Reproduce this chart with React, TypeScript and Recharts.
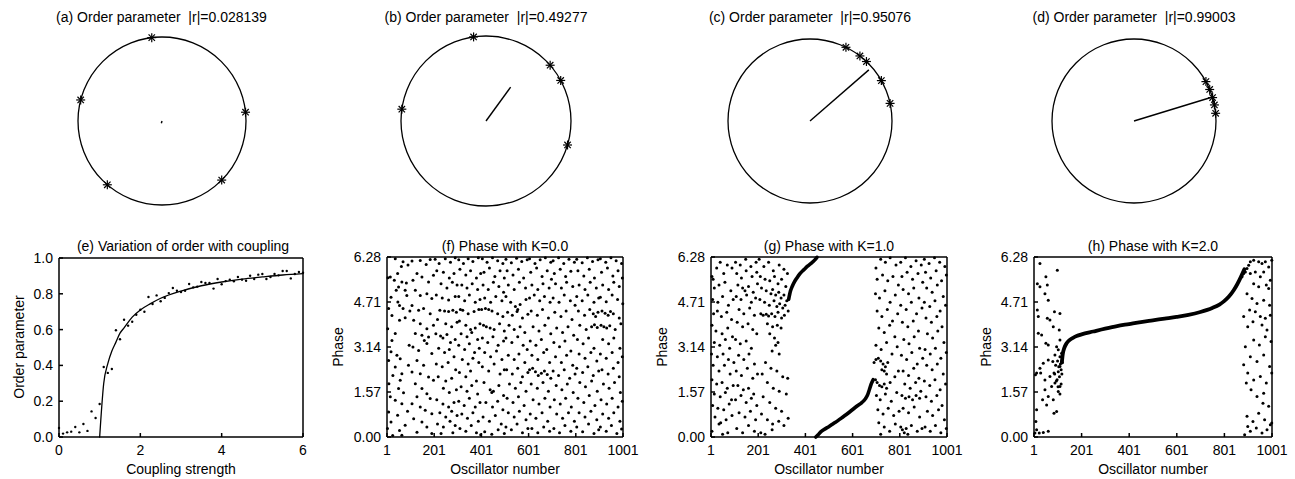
import { ComposedChart, ScatterChart, Scatter, Line, XAxis, YAxis, ReferenceDot } from 'recharts'

const FONT = '"Liberation Sans", Arial, Helvetica, sans-serif'

type Pair = [number, number]

// (a)-(d) phases of the five oscillators, in degrees
const phasesA = [97, 165.5, 6, 229.4, 315.3]
const phasesB = [98.4, 41, 28.5, 172, 343.6]
const phasesC = [64, 52.5, 46.5, 29.5, 12.4]
const phasesD = [28.7, 22.6, 16.6, 11.3, 5.4]
// order parameter |r| and its angle (degrees)
const orderMag = [0.028139, 0.49277, 0.95076, 0.99003]
const orderAngle = [254, 54, 41, 17]
const topTitles = [
  '(a) Order parameter  |r|=0.028139',
  '(b) Order parameter  |r|=0.49277',
  '(c) Order parameter  |r|=0.95076',
  '(d) Order parameter  |r|=0.99003',
]

// (e) simulated order vs coupling, and the theory curve
const couplingK = [0, 0.1, 0.2, 0.3, 0.4, 0.5, 0.6, 0.7, 0.8, 0.9, 1.0, 1.1, 1.2, 1.3, 1.4, 1.5, 1.6, 1.7, 1.8, 1.9, 2.0,
  2.1, 2.2, 2.3, 2.4, 2.5, 2.6, 2.7, 2.8, 2.9, 3.0, 3.1, 3.2, 3.3, 3.4, 3.5, 3.6, 3.7, 3.8, 3.9, 4.0,
  4.1, 4.2, 4.3, 4.4, 4.5, 4.6, 4.7, 4.8, 4.9, 5.0, 5.1, 5.2, 5.3, 5.4, 5.5, 5.6, 5.7, 5.8, 5.9, 6.0]
const orderSim = [0.05, 0.019, 0.026, 0.03, 0.056, 0.026, 0.073, 0.034, 0.143, 0.106, 0.184, 0.391, 0.358, 0.38, 0.596,
  0.546, 0.655, 0.622, 0.644, 0.683, 0.711, 0.7, 0.782, 0.743, 0.791, 0.758, 0.777, 0.804, 0.832, 0.817, 0.81,
  0.817, 0.855, 0.836, 0.84, 0.866, 0.86, 0.86, 0.829, 0.883, 0.853, 0.871, 0.879, 0.87, 0.894, 0.879, 0.873,
  0.901, 0.883, 0.907, 0.911, 0.883, 0.894, 0.911, 0.903, 0.927, 0.927, 0.886, 0.911, 0.922, 0.918]
const theoryK = [1.0, 1.1, 1.2, 1.3, 1.4, 1.5, 1.6, 1.8, 2.0, 2.25, 2.5, 3, 3.5, 4, 4.5, 5, 5.5, 6]
const theoryR = [0, 0.3, 0.41, 0.48, 0.53, 0.58, 0.61, 0.67, 0.71, 0.745, 0.775, 0.815, 0.845, 0.866, 0.882, 0.894, 0.905, 0.913]

// (f) K=0.0 : [oscillator, phase]
const phaseK0: Pair[] = [
  [36,6.22],[69,6.11],[62,5.95],[46,5.7],[15,5.58],[32,5.47],[5,5.56],[64,5.41],[83,5.37],[50,5.23],[40,5.12],[78,5.12],[85,4.94],[18,4.88],[47,4.71],[54,4.59],[8,4.48],[69,4.48],[22,4.24],[54,4.07],[78,4.16],[4,3.78],[36,3.61],[22,3.37],[18,2.97],[43,2.85],[57,2.73],[8,2.67],[36,2.44],[64,2.21],[26,2.15],[57,1.98],[9,1.86],[50,1.69],[71,1.54],[15,1.4],[36,1.28],[64,1.16],[8,0.87],[46,0.76],[18,0.52],[78,0.41],[54,0.23],[64,0.06],[90,6.0],[95,3.2],[92,2.5],[88,0.9],[3,0.3],[25,0.05],[98,4.4],
  [107,6.14],[142,6.16],[167,6.02],[184,6.19],[128,5.7],[149,5.58],[111,5.47],[177,5.41],[198,5.64],[121,5.12],[142,4.94],[170,5.0],[191,4.83],[107,4.59],[135,4.42],[156,4.48],[184,4.3],[114,4.07],[142,3.95],[170,3.78],[198,3.9],[121,3.61],[149,3.55],[177,3.49],[159,3.37],[170,3.26],[111,3.14],[135,3.02],[191,2.91],[128,2.67],[156,2.5],[107,2.27],[142,2.21],[177,2.09],[198,1.98],[121,1.86],[149,1.69],[170,1.51],[128,1.4],[184,1.34],[107,1.16],[142,1.05],[163,0.93],[191,0.81],[114,0.64],[149,0.52],[170,0.35],[128,0.17],[191,0.12],
  [205,6.2],[222,6.05],[248,6.22],[270,6.1],[290,6.25],[212,5.8],[240,5.75],[265,5.55],[285,5.7],[230,5.35],[255,5.2],[278,5.4],[298,5.3],[210,4.95],[235,4.85],[262,4.78],[290,4.9],[225,4.42],[245,4.4],[262,4.38],[280,4.42],[295,4.35],[215,4.1],[250,3.95],[275,3.85],[298,4.0],[208,3.6],[228,3.52],[238,3.45],[255,3.58],[270,3.3],[290,3.4],[220,3.1],[245,2.95],[265,3.05],[285,2.8],[210,2.55],[235,2.45],[260,2.6],[292,2.35],[218,2.1],[250,1.95],[275,2.05],[240,1.7],[265,1.55],[295,1.65],[212,1.3],[238,1.15],[262,1.05],[285,1.2],[225,0.85],[250,0.7],[275,0.9],[298,0.75],[215,0.45],[240,0.35],[268,0.55],[290,0.4],[230,0.12],[280,0.15],
  [305,6.18],[325,6.05],[345,6.22],[365,6.12],[388,6.25],[310,5.85],[335,5.65],[355,5.8],[380,5.55],[398,5.7],[318,5.3],[340,5.2],[362,5.35],[385,5.15],[305,4.9],[330,4.75],[350,4.95],[375,4.7],[395,4.8],[312,4.45],[322,4.42],[345,4.3],[370,4.38],[390,4.45],[308,4.05],[335,3.9],[355,3.75],[375,3.8],[395,3.95],[315,3.6],[340,3.5],[360,3.65],[385,3.4],[305,3.2],[330,3.05],[350,3.25],[372,2.95],[392,3.1],[320,2.7],[345,2.55],[365,2.75],[390,2.6],[308,2.25],[335,2.1],[355,2.3],[380,1.95],[315,1.75],[340,1.6],[360,1.8],[385,1.5],[305,1.25],[328,1.1],[350,1.35],[375,1.05],[395,1.2],[318,0.8],[342,0.65],[365,0.85],[388,0.55],[310,0.3],[335,0.2],[358,0.4],[380,0.15],[398,0.08],
  [405,6.22],[425,6.1],[448,6.25],[470,6.15],[492,6.05],[412,5.75],[435,5.9],[458,5.6],[480,5.8],[498,5.55],[408,5.3],[430,5.15],[452,5.4],[475,5.25],[495,5.05],[415,4.85],[440,4.7],[462,4.9],[488,4.75],[402,4.45],[418,4.48],[432,4.45],[446,4.4],[470,4.3],[492,4.2],[410,3.9],[422,3.85],[438,3.8],[455,3.75],[478,3.95],[498,3.7],[405,3.45],[428,3.3],[450,3.5],[472,3.2],[495,3.35],[415,2.95],[440,2.8],[465,3.0],[488,2.7],[405,2.45],[432,2.3],[455,2.55],[480,2.2],[498,2.35],[412,1.9],[438,1.65],[445,1.55],[452,1.6],[475,1.8],[495,1.45],[420,1.2],[448,1.05],[470,1.25],[492,0.95],[408,0.7],[435,0.55],[460,0.75],[485,0.45],[415,0.18],[445,0.1],[472,0.25],[498,0.12],
  [505,6.2],[528,6.08],[550,6.24],[572,6.12],[595,6.18],[510,5.8],[535,5.65],[558,5.85],[580,5.55],[515,5.3],[540,5.15],[562,5.4],[588,5.2],[505,4.9],[525,4.7],[545,4.55],[555,4.45],[565,4.62],[590,4.8],[512,4.35],[532,4.25],[552,4.38],[575,4.15],[598,4.28],[518,3.9],[540,3.75],[565,3.85],[585,3.65],[505,3.45],[530,3.3],[555,3.5],[578,3.2],[595,3.05],[515,2.85],[540,2.7],[560,2.9],[585,2.6],[508,2.35],[532,2.2],[555,2.4],[575,2.1],[598,2.25],[520,1.85],[545,1.7],[568,1.9],[590,1.6],[510,1.35],[535,1.2],[558,1.4],[582,1.1],[515,0.85],[540,0.7],[562,0.9],[590,0.6],[505,0.35],[528,0.25],[552,0.45],[575,0.15],[598,0.3],
  [605,6.22],[628,6.05],[650,6.18],[672,6.25],[695,6.1],[610,5.75],[635,5.9],[658,5.6],[680,5.8],[698,5.5],[615,5.3],[640,5.15],[662,5.35],[688,5.2],[605,4.85],[625,4.95],[648,4.75],[668,4.9],[692,4.7],[612,4.4],[638,4.25],[660,4.45],[685,4.15],[620,3.85],[645,3.7],[670,3.9],[695,3.6],[608,3.35],[632,3.2],[655,3.4],[678,3.05],[615,2.85],[640,2.7],[665,2.95],[690,2.6],[605,2.35],[618,2.4],[630,2.28],[642,2.15],[655,2.22],[668,2.3],[680,2.18],[695,2.05],[612,1.85],[638,1.7],[662,1.9],[685,1.6],[620,1.3],[645,1.15],[670,1.35],[692,1.05],[608,0.8],[632,0.65],[658,0.85],[682,0.55],[615,0.3],[640,0.15],[665,0.35],[690,0.2],
  [705,6.15],[728,6.25],[750,6.05],[772,6.2],[795,6.1],[710,5.7],[735,5.85],[758,5.6],[780,5.78],[715,5.35],[740,5.2],[762,5.4],[788,5.25],[705,4.85],[730,4.7],[752,4.95],[778,4.75],[798,4.6],[712,4.35],[738,4.2],[760,4.4],[785,4.1],[720,3.8],[745,3.65],[768,3.85],[792,3.55],[708,3.3],[732,3.15],[755,3.35],[780,3.0],[715,2.8],[740,2.6],[762,2.85],[788,2.5],[705,2.3],[728,2.15],[752,2.35],[775,2.05],[798,2.2],[718,1.8],[742,1.65],[765,1.85],[790,1.55],[710,1.3],[735,1.15],[758,1.35],[782,1.05],[720,0.8],[745,0.65],[770,0.85],[795,0.55],[708,0.3],[732,0.15],[755,0.4],[780,0.2],
  [805,6.2],[828,6.08],[850,6.25],[872,6.12],[895,6.18],[810,5.8],[835,5.62],[858,5.85],[880,5.55],[815,5.3],[840,5.15],[862,5.4],[888,5.2],[805,4.9],[828,4.75],[852,4.95],[878,4.7],[898,4.85],[812,4.4],[838,4.25],[860,4.45],[875,4.3],[885,4.2],[895,4.35],[818,3.9],[845,3.75],[868,3.85],[880,3.92],[892,3.82],[808,3.4],[832,3.25],[855,3.45],[878,3.1],[815,2.9],[840,2.75],[865,2.95],[890,2.65],[805,2.4],[830,2.25],[852,2.45],[875,2.15],[898,2.3],[818,1.9],[842,1.75],[868,1.95],[892,1.6],[810,1.35],[835,1.2],[858,1.45],[882,1.1],[815,0.85],[840,0.7],[865,0.9],[890,0.6],[805,0.35],[830,0.18],[855,0.45],[878,0.12],[898,0.25],
  [905,6.22],[928,6.1],[950,6.25],[972,6.15],[995,6.05],[910,5.75],[935,5.9],[958,5.62],[980,5.8],[998,5.55],[915,5.3],[940,5.15],[962,5.4],[985,5.25],[905,4.88],[930,4.72],[955,4.95],[978,4.8],[1000,4.65],[912,4.4],[925,4.32],[938,4.25],[948,4.38],[960,4.3],[985,4.15],[908,3.9],[920,3.85],[932,3.8],[945,3.88],[968,3.75],[992,3.95],[915,3.4],[940,3.25],[962,3.45],[988,3.1],[905,2.9],[930,2.75],[955,2.95],[980,2.6],[998,2.8],[912,2.35],[938,2.2],[960,2.4],[985,2.1],[918,1.85],[942,1.7],[965,1.9],[990,1.55],[908,1.3],[932,1.15],[955,1.35],[980,1.05],[998,1.25],[915,0.8],[940,0.65],[962,0.85],[988,0.55],[905,0.35],[930,0.2],[952,0.4],[975,0.12],[995,0.28],
]

// (g) K=1.0 : drifting oscillators
const phaseK1: Pair[] = [
  [5,5.6],[10,5.5],[25,5.9],[40,6.1],[55,5.7],[70,6.0],[90,5.9],[15,5.2],[35,5.3],[60,5.4],[85,5.1],[8,4.8],[30,4.7],[50,4.9],[75,4.6],[95,4.8],[12,4.3],[28,4.4],[45,4.2],[68,4.35],[88,4.1],[5,3.9],[22,3.7],[48,3.6],[72,3.8],[92,3.5],[15,3.3],[38,3.2],[62,3.4],[80,3.1],[3,2.9],[28,2.8],[52,2.9],[75,2.7],[98,2.6],[10,2.5],[35,2.3],[58,2.5],[82,2.2],[5,2.0],[25,1.85],[48,1.9],[70,1.7],[95,1.8],[15,1.5],[40,1.4],[62,1.55],[88,1.3],[8,1.1],[30,1.0],[55,0.95],[78,1.15],[18,0.7],[42,0.5],[35,0.45],[65,0.6],[90,0.75],[5,0.2],[50,0.1],[72,0.15],
  [105,6.1],[125,6.0],[148,6.2],[170,5.95],[192,6.1],[110,5.7],[130,5.55],[150,5.8],[175,5.6],[195,5.75],[115,5.3],[135,5.2],[145,5.1],[160,5.25],[180,5.05],[198,5.35],[108,4.9],[128,4.8],[152,4.95],[172,4.7],[190,4.85],[120,4.45],[140,4.3],[165,4.5],[185,4.25],[112,4.0],[135,3.85],[158,3.95],[178,3.75],[195,3.6],[105,3.4],[125,3.25],[150,3.35],[172,3.1],[118,2.85],[140,2.7],[162,2.9],[185,2.55],[108,2.3],[130,2.15],[155,2.4],[178,2.05],[198,2.2],[115,1.8],[138,1.65],[160,1.7],[182,1.5],[105,1.3],[128,1.45],[150,1.2],[172,1.35],[195,1.1],[120,0.85],[145,0.7],[168,0.9],[190,0.6],[110,0.3],[135,0.15],[160,0.4],[185,0.2],
  [205,6.2],[225,5.95],[245,6.1],[265,5.8],[290,6.0],[310,5.85],[325,5.7],[210,5.6],[230,5.5],[250,5.45],[270,5.6],[285,5.35],[300,5.5],[318,5.25],[215,5.2],[235,5.1],[255,5.0],[262,5.15],[275,4.95],[288,5.05],[298,4.85],[310,4.95],[322,4.75],[208,4.8],[228,4.7],[248,4.6],[268,4.75],[280,4.55],[292,4.65],[305,4.5],[315,4.6],[328,4.4],[212,4.3],[222,4.25],[235,4.28],[245,4.22],[258,4.3],[272,4.2],[285,4.35],[300,4.15],[312,4.25],[240,3.95],[262,3.85],[282,3.9],[298,3.8],[250,3.6],[270,3.45],[285,3.3],[275,3.2],[260,3.0],[290,2.9],[232,2.6],[255,2.4],[280,2.3],[305,2.1],[218,2.2],[240,1.9],[265,1.7],[290,1.6],[222,1.4],[250,1.2],[275,1.0],[300,0.9],[215,0.8],[240,0.6],[262,0.45],[288,0.55],[310,0.4],[212,0.15],[230,0.1],[260,0.25],[328,0.65],[326,2.05],[320,1.5],
  [700,5.9],[720,6.2],[740,6.1],[760,6.25],[785,6.0],[705,5.5],[728,5.65],[750,5.45],[772,5.6],[795,5.3],[698,5.0],[715,4.85],[738,5.1],[760,4.7],[782,4.95],[705,4.4],[725,4.2],[748,4.45],[770,4.05],[792,4.3],[712,3.8],[735,3.65],[758,3.9],[780,3.5],[700,3.2],[722,3.05],[745,3.3],[768,2.9],[790,3.15],[692,2.6],[700,2.7],[710,2.75],[720,2.65],[730,2.55],[740,2.45],[750,2.6],[735,2.3],[745,2.2],[725,2.35],[698,2.0],[705,1.9],[715,1.8],[725,1.75],[735,1.85],[745,1.7],[760,1.9],[780,2.1],[795,2.3],[702,1.45],[718,1.3],[740,1.5],[765,1.25],[788,1.55],[708,0.95],[730,0.8],[752,1.0],[775,0.75],[798,0.9],[712,0.5],[735,0.35],[758,0.2],[782,0.45],[720,0.1],
  [805,6.1],[825,6.25],[848,5.95],[870,6.15],[892,6.0],[810,5.6],[832,5.75],[855,5.5],[878,5.7],[898,5.4],[815,5.15],[838,5.0],[860,5.2],[882,4.85],[805,4.6],[828,4.45],[850,4.7],[872,4.3],[895,4.5],[812,4.0],[835,3.85],[858,4.05],[880,3.7],[818,3.4],[840,3.25],[862,3.5],[885,3.1],[808,2.85],[830,2.7],[852,2.95],[875,2.55],[898,2.75],[815,2.3],[838,2.15],[860,2.4],[882,2.05],[822,1.85],[845,1.7],[868,1.9],[890,1.6],[810,1.45],[825,1.35],[840,1.4],[855,1.3],[870,1.45],[885,1.35],[815,1.0],[838,0.85],[862,1.05],[885,0.7],[805,0.35],[812,0.25],[820,0.15],[828,0.3],[835,0.1],[850,0.4],[875,0.2],[895,0.3],
  [905,6.2],[925,6.05],[948,6.25],[970,6.1],[992,5.95],[910,5.75],[932,5.55],[955,5.8],[978,5.45],[998,5.65],[915,5.2],[938,5.05],[960,5.3],[985,4.9],[905,4.7],[928,4.55],[950,4.75],[972,4.4],[995,4.6],[912,4.15],[935,4.0],[958,4.2],[980,3.85],[918,3.6],[940,3.45],[962,3.7],[988,3.3],[908,3.05],[930,2.9],[952,3.1],[975,2.75],[998,2.95],[915,2.5],[938,2.35],[960,2.55],[985,2.2],[905,1.95],[928,1.8],[950,2.0],[972,1.65],[995,1.85],[912,1.4],[935,1.25],[958,1.45],[980,1.1],[918,0.9],[940,0.75],[965,0.95],[990,0.6],[908,0.35],[930,0.2],[952,0.4],[975,0.15],[998,0.3],
]
// (g) locked oscillators (read along the dense band)
const lockedK1Upper: Pair[] = [[330,4.8],[338,5.1],[345,5.25],[355,5.42],[365,5.55],[378,5.7],[395,5.84],[410,5.96],[425,6.06],[440,6.17],[450,6.27]]
const lockedK1Lower: Pair[] = [[445,0.0],[455,0.08],[465,0.17],[480,0.26],[500,0.36],[520,0.47],[540,0.58],[560,0.7],[580,0.82],[600,0.95],[620,1.08],[640,1.2],[655,1.33],[665,1.48],[672,1.65],[680,1.85],[688,2.0]]

// (h) K=2.0 : drifting oscillators
const phaseK2: Pair[] = [
  [26,6.05],[15,5.35],[26,5.24],[51,5.59],[57,5.3],[99,5.82],[47,5.0],[61,4.77],[87,4.37],[110,4.31],[57,4.14],[68,4.08],[15,4.43],[19,3.62],[33,3.56],[51,3.27],[61,3.21],[96,3.15],[110,3.38],[103,3.04],[89,2.86],[80,2.63],[61,2.69],[40,2.57],[26,2.4],[12,2.23],[29,2.23],[47,1.99],[68,2.11],[85,2.23],[103,2.28],[110,2.46],[117,2.63],[75,1.76],[89,1.88],[110,1.76],[47,1.65],[61,1.41],[37,1.3],[82,1.3],[103,1.59],[54,1.12],[96,0.89],[85,0.83],[12,0.95],[9,0.54],[5,0.14],[23,0.14],[40,0.16],[61,0.2],[12,0.25],[110,2.8],[117,2.92],[107,3.73],[82,3.85],[19,4.2],[7,2.17],
  [92,2.5],[100,2.65],[105,2.45],[112,2.55],[98,2.0],[108,2.1],[115,2.35],[88,2.2],[95,1.95],[102,1.75],[110,1.5],[115,1.85],[120,2.6],[118,2.2],
  [875,5.59],[882,5.7],[889,5.76],[896,5.88],[903,5.99],[910,6.11],[924,6.17],[945,6.11],[959,6.05],[973,6.11],[987,5.93],[910,5.7],[931,5.76],[952,5.59],[966,5.76],[924,5.35],[945,5.24],[977,5.3],[994,5.47],[896,5.0],[917,4.83],[938,4.66],[966,4.77],[991,4.6],[882,4.2],[907,4.43],[931,4.37],[952,4.2],[973,4.14],[994,4.25],[899,3.85],[921,4.02],[959,3.91],[980,3.73],[889,3.15],[924,3.38],[948,3.21],[973,3.5],[997,3.33],[910,2.8],[938,2.63],[966,2.86],[991,2.46],[882,2.52],[899,2.23],[924,1.99],[952,2.11],[977,1.88],[1000,2.23],[893,1.88],[913,1.65],[938,1.41],[963,1.18],[987,1.07],[966,1.53],[896,0.72],[921,0.54],[945,0.83],[970,0.6],[994,0.43],[886,0.08],[910,0.2],[935,0.31],[959,0.14],[980,0.25],[1000,0.49],[899,0.37],[1000,6.17],[987,5.18],
]
const lockedK2: Pair[] = [[118,2.6],[122,2.9],[128,3.1],[138,3.27],[150,3.38],[165,3.46],[180,3.52],[201,3.58],[250,3.68],[300,3.78],[350,3.87],[400,3.94],[450,4.01],[500,4.07],[550,4.13],[600,4.19],[650,4.26],[700,4.36],[750,4.5],[780,4.62],[800,4.74],[820,4.9],[840,5.12],[855,5.33],[870,5.58],[885,5.85]]

const oscTicks = [1, 201, 401, 601, 801, 1001]
const phaseTicks = [0, 1.57, 3.14, 4.71, 6.28]

const toXY = (pairs: Pair[]) => pairs.map(([x, y]) => ({ x, y }))
const rad = (d: number) => (d * Math.PI) / 180

function Asterisk(props: any) {
  const { cx, cy } = props
  const s = 4.5
  const d = 3.2
  return (
    <g stroke="#000" strokeWidth={1.2}>
      <line x1={cx - s} y1={cy} x2={cx + s} y2={cy} />
      <line x1={cx} y1={cy - s} x2={cx} y2={cy + s} />
      <line x1={cx - d} y1={cy - d} x2={cx + d} y2={cy + d} />
      <line x1={cx - d} y1={cy + d} x2={cx + d} y2={cy - d} />
    </g>
  )
}

function OrderCircle({ cx, cy, radius, phases, mag, angle }: {
  cx: number; cy: number; radius: number; phases: number[]; mag: number; angle: number
}) {
  const pad = 8
  const size = radius * 2 + pad * 2
  const stars = phases.map((d) => ({ x: Math.cos(rad(d)), y: Math.sin(rad(d)) }))
  const vector = [{ x: 0, y: 0 }, { x: mag * Math.cos(rad(angle)), y: mag * Math.sin(rad(angle)) }]
  return (
    <div style={{ position: 'absolute', left: cx - radius - pad, top: cy - radius - pad }}>
      <ScatterChart width={size} height={size} margin={{ top: pad, right: pad, bottom: pad, left: pad }}>
        <XAxis type="number" dataKey="x" domain={[-1, 1]} hide />
        <YAxis type="number" dataKey="y" domain={[-1, 1]} hide />
        <ReferenceDot x={0} y={0} r={radius} fill="none" stroke="#000" strokeWidth={1.3} />
        <Scatter data={vector} line={{ stroke: '#000', strokeWidth: 1.4 }} shape={() => <g />} isAnimationActive={false} />
        <Scatter data={stars} shape={Asterisk} isAnimationActive={false} />
      </ScatterChart>
    </div>
  )
}

interface PanelProps {
  plotLeft: number
  plotTop: number
  plotW: number
  plotH: number
  xDomain: [number, number]
  xTicks: number[]
  yDomain: [number, number]
  yTicks: number[]
  yFmt: (v: number) => string
  dots: { x: number; y: number }[]
  dotR: number
  curves?: { x: number; y: number }[][]
  curveW?: number
}

function Panel({ plotLeft, plotTop, plotW, plotH, xDomain, xTicks, yDomain, yTicks, yFmt, dots, dotR, curves = [], curveW = 1.3 }: PanelProps) {
  const chartTop = 240
  const chartH = 239
  const yAxisW = 70
  const xAxisH = 20
  const rightPad = 22
  const mTop = plotTop - chartTop
  const mBottom = chartH - mTop - plotH - xAxisH
  const tickStyle = { fill: '#000', fontSize: 14, fontFamily: FONT }
  const frame = { stroke: '#000', strokeWidth: 1.5 }
  return (
    <div style={{ position: 'absolute', left: plotLeft - yAxisW, top: chartTop }}>
      <ComposedChart width={yAxisW + plotW + rightPad} height={chartH} margin={{ top: mTop, right: rightPad, bottom: mBottom, left: 0 }}>
        <XAxis type="number" dataKey="x" domain={xDomain} ticks={xTicks} interval={0} height={xAxisH}
          tickSize={-4} tickMargin={12} axisLine={frame} tickLine={frame} tick={tickStyle} />
        <YAxis type="number" dataKey="y" domain={yDomain} ticks={yTicks} interval={0} width={yAxisW}
          tickFormatter={yFmt} tickSize={-4} tickMargin={10} axisLine={frame} tickLine={frame} tick={tickStyle} />
        <XAxis xAxisId="top" orientation="top" mirror type="number" domain={xDomain} ticks={xTicks} interval={0}
          tickSize={4} axisLine={frame} tickLine={frame} tick={false} allowDataOverflow />
        <YAxis yAxisId="right" orientation="right" mirror type="number" domain={yDomain} ticks={yTicks} interval={0}
          tickSize={4} axisLine={frame} tickLine={frame} tick={false} allowDataOverflow />
        {curves.map((c, i) => (
          <Line key={i} data={c} dataKey="y" type="monotone" stroke="#000" strokeWidth={curveW}
            strokeLinecap="round" dot={false} activeDot={false} isAnimationActive={false} />
        ))}
        <Scatter data={dots} isAnimationActive={false}
          shape={(p: any) => <circle cx={p.cx} cy={p.cy} r={dotR} fill="#000" />} />
      </ComposedChart>
    </div>
  )
}

const circles = [
  { cx: 161.5, cy: 121, radius: 84, phases: phasesA },
  { cx: 486, cy: 121, radius: 85, phases: phasesB },
  { cx: 810, cy: 121, radius: 82, phases: phasesC },
  { cx: 1134, cy: 121, radius: 82, phases: phasesD },
]

export default function App() {
  const simPts = couplingK.map((k, i) => ({ x: k, y: orderSim[i] }))
  const theory = theoryK.map((k, i) => ({ x: k, y: theoryR[i] }))
  const fmt2 = (v: number) => v.toFixed(2)
  const fmt1 = (v: number) => v.toFixed(1)
  const bottomTitles = [
    { x: 183, t: '(e) Variation of order with coupling' },
    { x: 505, t: '(f) Phase with K=0.0' },
    { x: 829, t: '(g) Phase with K=1.0' },
    { x: 1153, t: '(h) Phase with K=2.0' },
  ]
  return (
    <div style={{ position: 'absolute', left: 0, top: 0, width: 1295, height: 479, background: '#fff', overflow: 'hidden' }}>
      {circles.map((c, i) => (
        <OrderCircle key={i} cx={c.cx} cy={c.cy} radius={c.radius} phases={c.phases} mag={orderMag[i]} angle={orderAngle[i]} />
      ))}
      <Panel plotLeft={59} plotTop={258} plotW={244} plotH={179} xDomain={[0, 6]} xTicks={[0, 2, 4, 6]}
        yDomain={[0, 1]} yTicks={[0, 0.2, 0.4, 0.6, 0.8, 1.0]} yFmt={fmt1} dots={simPts} dotR={1.2}
        curves={[theory]} curveW={1.3} />
      <Panel plotLeft={387} plotTop={257} plotW={236} plotH={180} xDomain={[1, 1001]} xTicks={oscTicks}
        yDomain={[0, 6.28]} yTicks={phaseTicks} yFmt={fmt2} dots={toXY(phaseK0)} dotR={1.5} />
      <Panel plotLeft={711} plotTop={257} plotW={236} plotH={180} xDomain={[1, 1001]} xTicks={oscTicks}
        yDomain={[0, 6.28]} yTicks={phaseTicks} yFmt={fmt2} dots={toXY(phaseK1)} dotR={1.5}
        curves={[toXY(lockedK1Upper), toXY(lockedK1Lower)]} curveW={3.6} />
      <Panel plotLeft={1034} plotTop={257} plotW={238} plotH={180} xDomain={[1, 1001]} xTicks={oscTicks}
        yDomain={[0, 6.28]} yTicks={phaseTicks} yFmt={fmt2} dots={toXY(phaseK2)} dotR={1.5}
        curves={[toXY(lockedK2)]} curveW={3.8} />
      <svg width={1295} height={479} style={{ position: 'absolute', left: 0, top: 0, pointerEvents: 'none', whiteSpace: 'pre' }}
        fontFamily={FONT} fontSize={14} fill="#000">
        {circles.map((c, i) => (
          <text key={i} x={c.cx} y={21.5} textAnchor="middle" style={{ whiteSpace: 'pre' }}>{topTitles[i]}</text>
        ))}
        {bottomTitles.map((b, i) => (
          <text key={i} x={b.x} y={251} textAnchor="middle">{b.t}</text>
        ))}
        <text x={181} y={473.5} textAnchor="middle">Coupling strength</text>
        <text x={505} y={473.5} textAnchor="middle">Oscillator number</text>
        <text x={829} y={473.5} textAnchor="middle">Oscillator number</text>
        <text x={1153} y={473.5} textAnchor="middle">Oscillator number</text>
        <text transform="translate(19,347) rotate(-90)" textAnchor="middle" dominantBaseline="central">Order parameter</text>
        <text transform="translate(338,347) rotate(-90)" textAnchor="middle" dominantBaseline="central">Phase</text>
        <text transform="translate(662,347) rotate(-90)" textAnchor="middle" dominantBaseline="central">Phase</text>
        <text transform="translate(986,347) rotate(-90)" textAnchor="middle" dominantBaseline="central">Phase</text>
      </svg>
    </div>
  )
}
